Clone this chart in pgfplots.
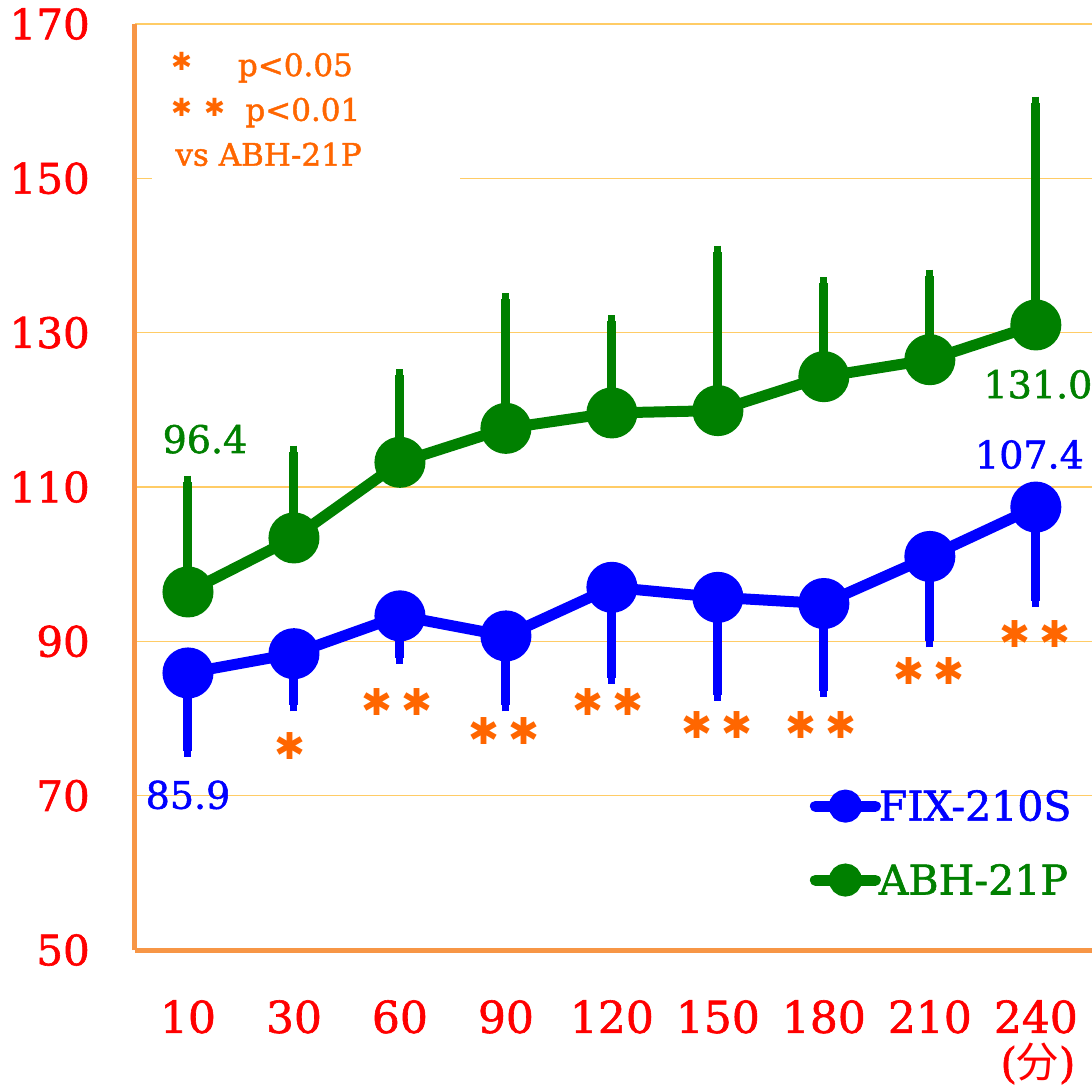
\documentclass[border=0pt]{standalone}
\usepackage{pgfplots}
\pgfplotsset{compat=1.18}
\usepackage{pgfplotstable}
\usepackage{fontspec}
\setmainfont{DejaVu Serif}[FakeBold=1.4]
\newfontfamily\cjk{Noto Sans CJK JP}
\newfontfamily\symb{DejaVu Sans}
\definecolor{axorange}{HTML}{F79646}
\definecolor{gridorange}{HTML}{FFCC66}
\definecolor{starorange}{HTML}{FF6600}
\definecolor{dgreen}{HTML}{008000}

% FIX-210S: mean and lower SD
\pgfplotstableread{
x y e
0 85.9 10.1
1 88.4 6.7
2 93.3 5.4
3 90.7 9.0
4 97.0 11.7
5 95.7 12.6
6 94.9 11.3
7 101.0 11.0
8 107.4 12.2
}\fix
% ABH-21P: mean and upper SD
\pgfplotstableread{
x y e
0 96.4 14.3
1 103.4 11.2
2 113.2 11.3
3 117.6 16.7
4 119.6 11.9
5 119.9 20.6
6 124.3 12.1
7 126.5 10.9
8 131.0 28.8
}\abh

\newcommand\twostars{✱\kern9pt✱}

\begin{document}
\begin{tikzpicture}
\begin{axis}[
  scale only axis, width=957pt, height=926pt,
  xmin=-0.5, xmax=8.53, ymin=50, ymax=170,
  axis x line*=bottom, axis y line*=left,
  axis line style={axorange, line width=5pt},
  xtick={0,...,8}, xticklabels={10,30,60,90,120,150,180,210,240},
  ytick={50,70,...,170},
  major tick length=0pt,
  ymajorgrids, grid style={gridorange, line width=1.5pt},
  /pgf/number format/assume math mode=true,
  tick label style={red},
  yticklabel style={font=\fontsize{42}{42}\selectfont, inner sep=0pt, xshift=-45pt},
  xticklabel style={font=\fontsize{44}{44}\selectfont, inner sep=0pt, yshift=-50pt},
  clip=false,
  legend style={at={(0.705,0.175)}, anchor=north west, draw=none, fill=none,
    font=\fontsize{41}{41}\selectfont, row sep=38pt, inner sep=0pt,
    /tikz/every odd column/.append style={column sep=-4pt},
    cells={anchor=west}},
  legend image code/.code={\draw[#1, mark repeat=2, mark phase=2, line cap=round]
    plot coordinates {(0pt,0pt) (30pt,0pt) (60pt,0pt)};},
  legend image post style={mark size=11pt},
]
\fill[white] (axis cs:-0.34,148.5) rectangle (axis cs:2.57,151.5);

\addplot[blue, line width=11pt, mark=*, mark size=20pt, mark options={solid, fill=blue},
  error bars/.cd, y dir=minus, y explicit,
  error bar style={line width=9pt, blue},
  error mark options={mark=-, mark size=6pt, line width=7pt, blue}]
  table[x=x, y=y, y error=e] {\fix};
\addlegendentry{\textcolor{blue}{FIX-210S}}

\addplot[dgreen, line width=11pt, mark=*, mark size=20pt, mark options={solid, fill=dgreen},
  error bars/.cd, y dir=plus, y explicit,
  error bar style={line width=9pt, dgreen},
  error mark options={mark=-, mark size=6pt, line width=7pt, dgreen}]
  table[x=x, y=y, y error=e] {\abh};
\addlegendentry{\textcolor{dgreen}{ABH-21P}}

% value labels
\node[dgreen, font=\fontsize{38}{38}\selectfont] at (axis cs:0.16,116.2) {96.4};
\node[blue, font=\fontsize{38}{38}\selectfont] at (axis cs:0.0,70.1) {85.9};
\node[dgreen, font=\fontsize{38}{38}\selectfont] at (axis cs:8.02,123.3) {131.0};
\node[blue, font=\fontsize{38}{38}\selectfont] at (axis cs:7.94,114.2) {107.4};

% significance marks
\begin{scope}[every node/.style={starorange, font=\symb\fontsize{37}{37}\selectfont, inner sep=0pt}]
\node at (axis cs:0.96,76.4) {✱};
\node at (axis cs:1.97,82.2) {\twostars};
\node at (axis cs:2.98,78.4) {\twostars};
\node at (axis cs:3.96,82.2) {\twostars};
\node at (axis cs:4.99,79.1) {\twostars};
\node at (axis cs:5.97,79.1) {\twostars};
\node at (axis cs:6.99,86.2) {\twostars};
\node at (axis cs:7.99,91.0) {\twostars};
\end{scope}

% key to the marks
\begin{scope}[every node/.style={starorange, inner sep=0pt}]
\node[font=\symb\fontsize{25}{25}\selectfont] at (axis cs:-0.06,165.2) {✱};
\node[font=\symb\fontsize{25}{25}\selectfont] at (axis cs:-0.06,159.2) {✱};
\node[font=\symb\fontsize{25}{25}\selectfont] at (axis cs:0.25,159.2) {✱};
\node[anchor=base west, font=\fontsize{31}{31}\selectfont] at (axis cs:0.47,163.25) {p<0.05};
\node[anchor=base west, font=\fontsize{31}{31}\selectfont] at (axis cs:0.54,157.45) {p<0.01};
\node[anchor=base west, font=\fontsize{31}{31}\selectfont] at (axis cs:-0.12,151.64) {vs ABH-21P};
\end{scope}

\node[anchor=north, red, inner sep=0pt, font=\fontsize{42}{42}\selectfont]
  at (axis cs:8.02,50) [yshift=-93pt] {(\cjk 分\rmfamily)};
\end{axis}
\pgfresetboundingbox
\path[use as bounding box] (-135pt,-138pt) rectangle (957pt,950pt);
\end{tikzpicture}
\end{document}
